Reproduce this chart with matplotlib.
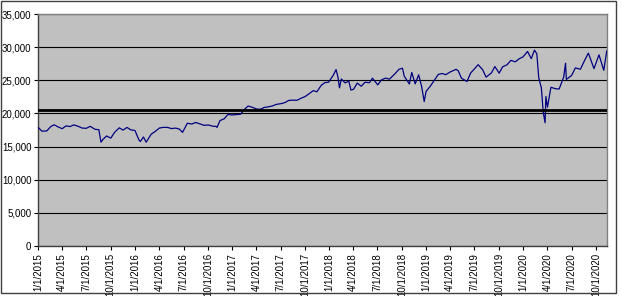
import pandas as pd
import matplotlib
matplotlib.use("Agg")
import matplotlib.pyplot as plt
import matplotlib.dates as mdates
from matplotlib.patches import Rectangle

# Dow Jones closes (approx.)
dates = [
    "2015-01-02", "2015-01-15", "2015-02-02", "2015-02-17", "2015-03-02", "2015-03-16",
    "2015-04-01", "2015-04-15", "2015-05-01", "2015-05-15", "2015-06-01", "2015-06-15",
    "2015-07-01", "2015-07-15", "2015-08-03", "2015-08-17", "2015-08-25", "2015-09-01",
    "2015-09-15", "2015-10-01", "2015-10-15", "2015-11-02", "2015-11-16", "2015-12-01",
    "2015-12-15", "2015-12-31",
    "2016-01-15", "2016-01-20", "2016-02-01", "2016-02-11", "2016-03-01", "2016-03-15",
    "2016-04-01", "2016-04-15", "2016-05-02", "2016-05-16", "2016-06-01", "2016-06-15",
    "2016-06-27", "2016-07-15", "2016-08-01", "2016-08-15", "2016-09-01", "2016-09-15",
    "2016-10-03", "2016-10-17", "2016-11-01", "2016-11-04", "2016-11-15", "2016-12-01",
    "2016-12-15", "2016-12-30",
    "2017-01-17", "2017-02-01", "2017-02-15", "2017-03-01", "2017-03-15", "2017-04-03",
    "2017-04-17", "2017-05-01", "2017-05-15", "2017-06-01", "2017-06-15", "2017-07-03",
    "2017-07-17", "2017-08-01", "2017-08-15", "2017-09-01", "2017-09-15", "2017-10-02",
    "2017-10-16", "2017-11-01", "2017-11-15", "2017-12-01", "2017-12-15", "2017-12-29",
    "2018-01-16", "2018-01-26", "2018-02-02", "2018-02-08", "2018-02-15", "2018-03-01",
    "2018-03-15", "2018-03-23", "2018-04-02", "2018-04-16", "2018-05-01", "2018-05-15",
    "2018-06-01", "2018-06-12", "2018-07-02", "2018-07-16", "2018-08-01", "2018-08-15",
    "2018-09-04", "2018-09-20", "2018-10-03", "2018-10-10", "2018-10-29", "2018-11-07",
    "2018-11-20", "2018-12-03", "2018-12-14", "2018-12-24", "2018-12-31",
    "2019-01-15", "2019-02-01", "2019-02-15", "2019-03-01", "2019-03-15", "2019-04-01",
    "2019-04-23", "2019-05-01", "2019-05-13", "2019-06-03", "2019-06-17", "2019-07-01",
    "2019-07-15", "2019-08-01", "2019-08-14", "2019-09-03", "2019-09-16", "2019-10-02",
    "2019-10-15", "2019-11-01", "2019-11-15", "2019-12-02", "2019-12-16", "2019-12-31",
    "2020-01-17", "2020-01-31", "2020-02-12", "2020-02-21", "2020-02-28", "2020-03-09",
    "2020-03-16", "2020-03-23", "2020-03-26", "2020-04-01", "2020-04-14", "2020-05-01",
    "2020-05-15", "2020-06-01", "2020-06-08", "2020-06-11", "2020-07-01", "2020-07-15",
    "2020-08-03", "2020-08-17", "2020-09-02", "2020-09-23", "2020-10-12", "2020-10-30",
    "2020-11-10",
]
closes = [
    17833, 17320, 17361, 18019, 18288, 17977, 17698, 18112, 18024, 18272, 18040, 17791,
    17757, 18053, 17598, 17545, 15666, 16058, 16599, 16272, 17141, 17828, 17483, 17888,
    17524, 17425,
    15988, 15766, 16449, 15660, 16865, 17251, 17792, 17897, 17891, 17711, 17789, 17640,
    17140, 18516, 18404, 18636, 18419, 18212, 18253, 18086, 18037, 17888, 18923, 19191,
    19852, 19763,
    19826, 19890, 20611, 21115, 20950, 20650, 20636, 20913, 20981, 21144, 21360, 21479,
    21630, 21963, 22000, 21988, 22268, 22557, 22956, 23435, 23271, 24231, 24651, 24719,
    25792, 26616, 25521, 23860, 25200, 24609, 24873, 23533, 23644, 24573, 24100, 24706,
    24635, 25320, 24307, 25064, 25333, 25162, 25952, 26657, 26828, 25599, 24443, 26180,
    24465, 25826, 24100, 21792, 23327,
    24065, 25063, 25883, 26026, 25849, 26258, 26656, 26430, 25324, 24819, 26112, 26717,
    27359, 26583, 25479, 26118, 27076, 26078, 27024, 27347, 28005, 27783, 28235, 28538,
    29348, 28256, 29551, 28992, 25409, 23851, 20188, 18592, 22552, 20943, 23949, 23724,
    23685, 25475, 27572, 25128, 25734, 26870, 26664, 27844, 29100, 26763, 28837, 26502,
    29420,
]
ref_level = 20570

y_ticks = list(range(0, 35001, 5000))
x_start = "2015-01-01"
x_end = "2020-11-10"

plt.rcParams["font.family"] = ["Liberation Sans", "DejaVu Sans"]

fig = plt.figure(figsize=(6.22, 2.96), dpi=100)
ax = fig.add_axes([38.3 / 622, 50 / 296, 568.4 / 622, 232 / 296])
ax.set_facecolor("#C0C0C0")

x = pd.to_datetime(dates)
ax.plot(x, closes, color="#000080", lw=0.9, zorder=3)
ax.axhline(ref_level, color="black", lw=2.0, zorder=4)

ax.set_xlim(pd.Timestamp(x_start), pd.Timestamp(x_end))
ax.set_ylim(0, 35000)
ax.set_yticks(y_ticks)
ax.set_yticklabels([f"{v:,}" for v in y_ticks])
ax.yaxis.grid(True, color="black", lw=0.8)
ax.set_axisbelow(True)

ax.xaxis.set_major_locator(mdates.MonthLocator(bymonth=[1, 4, 7, 10]))
ax.xaxis.set_major_formatter(mdates.DateFormatter("%-m/%-d/%Y"))
for lbl in ax.get_xticklabels():
    lbl.set_rotation(90)

ax.tick_params(axis="both", labelsize=7, length=3, width=0.8, color="black", pad=2)

for side in ["top", "right"]:
    ax.spines[side].set_color("#808080")
    ax.spines[side].set_linewidth(1)
for side in ["left", "bottom"]:
    ax.spines[side].set_color("#404040")
    ax.spines[side].set_linewidth(1)

# chart area frame
fig.patches.append(Rectangle((1 / 622, 3 / 296), 615 / 622, 292 / 296,
                             transform=fig.transFigure, fill=False,
                             edgecolor="#404040", lw=1))

fig.savefig("out.png", dpi=100)
